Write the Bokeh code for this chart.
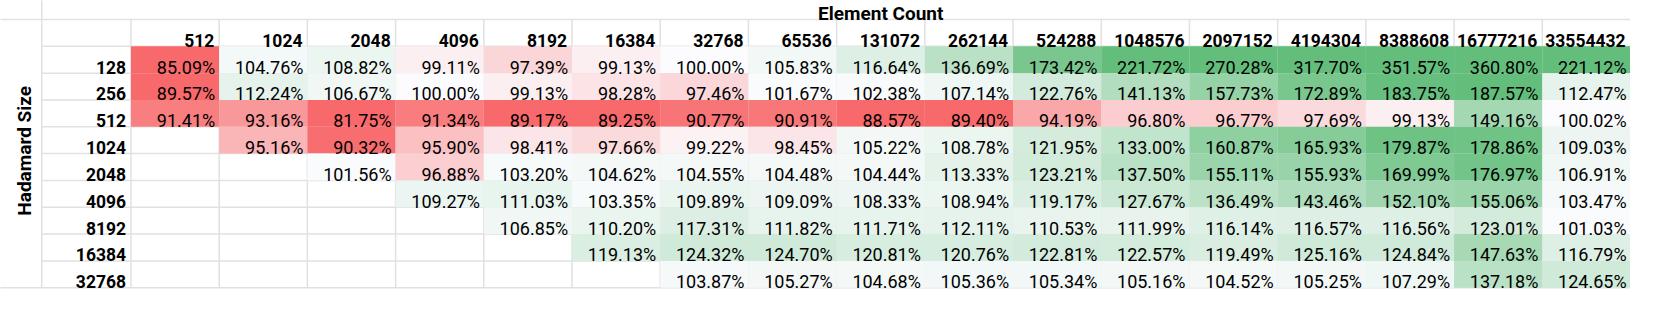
import numpy as np
from bokeh.plotting import figure
from bokeh.models import ColumnDataSource, Range1d
from bokeh.core.properties import value
from bokeh.embed import file_html
from bokeh.resources import INLINE

# ---------------- data ----------------
element_counts = [512, 1024, 2048, 4096, 8192, 16384, 32768, 65536, 131072,
                  262144, 524288, 1048576, 2097152, 4194304, 8388608,
                  16777216, 33554432]
hadamard_sizes = [128, 256, 512, 1024, 2048, 4096, 8192, 16384, 32768]

row_128 = [85.09, 104.76, 108.82, 99.11, 97.39, 99.13, 100.00, 105.83, 116.64,
           136.69, 173.42, 221.72, 270.28, 317.70, 351.57, 360.80, 221.12]
row_256 = [89.57, 112.24, 106.67, 100.00, 99.13, 98.28, 97.46, 101.67, 102.38,
           107.14, 122.76, 141.13, 157.73, 172.89, 183.75, 187.57, 112.47]
row_512 = [91.41, 93.16, 81.75, 91.34, 89.17, 89.25, 90.77, 90.91, 88.57,
           89.40, 94.19, 96.80, 96.77, 97.69, 99.13, 149.16, 100.02]
row_1024 = [95.16, 90.32, 95.90, 98.41, 97.66, 99.22, 98.45, 105.22, 108.78,
            121.95, 133.00, 160.87, 165.93, 179.87, 178.86, 109.03]
row_2048 = [101.56, 96.88, 103.20, 104.62, 104.55, 104.48, 104.44, 113.33,
            123.21, 137.50, 155.11, 155.93, 169.99, 176.97, 106.91]
row_4096 = [109.27, 111.03, 103.35, 109.89, 109.09, 108.33, 108.94, 119.17,
            127.67, 136.49, 143.46, 152.10, 155.06, 103.47]
row_8192 = [106.85, 110.20, 117.31, 111.82, 111.71, 112.11, 110.53, 111.99,
            116.14, 116.57, 116.56, 123.01, 101.03]
row_16384 = [119.13, 124.32, 124.70, 120.81, 120.76, 122.81, 122.57, 119.49,
             125.16, 124.84, 147.63, 116.79]
row_32768 = [103.87, 105.27, 104.68, 105.36, 105.34, 105.16, 104.52, 105.25,
             107.29, 137.18, 124.65]

rows = [row_128, row_256, row_512, row_1024, row_2048, row_4096, row_8192,
        row_16384, row_32768]

x_title = "Element Count"
y_title = "Hadamard Size"

# ---------------- layout (sheet pixels) ----------------
W = 1662
LEFT_COL = 46.0
DATA_X0 = 136.7
NC = len(element_counts)
NR = len(hadamard_sizes)
COL_W = (W - DATA_X0) / NC
HEAD_H = 28.0
DATA_Y0 = 56.0
ROW_H = 28.1
BOTTOM = DATA_Y0 + NR * ROW_H
PAD_DATA = 4.0
PAD_HEAD = 5.0
BASE_OFF = 6.3

FONT = "Roboto"
GRID = "#E1E1E1"

# Excel 3-colour scale: red (low) - white (100%) - green (high)
RED = np.array([248, 105, 107])
WHITE = np.array([252, 252, 255])
GREEN = np.array([99, 190, 123])
all_vals = np.concatenate([np.array(r) for r in rows])
LO = np.percentile(all_vals, 5)
HI = np.percentile(all_vals, 95)
MID = 100.0


def cell_color(v):
    if v <= MID:
        t = min(max((MID - v) / (MID - LO), 0.0), 1.0)
        c = WHITE + t * (RED - WHITE)
    else:
        t = min(max((v - MID) / (HI - MID), 0.0), 1.0)
        c = WHITE + t * (GREEN - WHITE)
    c = np.round(c).astype(int)
    return "#%02x%02x%02x" % tuple(c)


# ---------------- build sources ----------------
cl, cr, ct, cb, cc, tx, ty, tt = [], [], [], [], [], [], [], []
for ri, row in enumerate(rows):
    start = NC - len(row)
    top = DATA_Y0 + ri * ROW_H
    for k, v in enumerate(row):
        ci = start + k
        left = DATA_X0 + ci * COL_W
        cl.append(left)
        cr.append(left + COL_W)
        ct.append(top)
        cb.append(top + ROW_H)
        cc.append(cell_color(v))
        tx.append(left + COL_W - PAD_DATA)
        ty.append(top + ROW_H - BASE_OFF)
        tt.append("%.2f%%" % v)

cells = ColumnDataSource(dict(left=cl, right=cr, top=ct, bottom=cb, color=cc))
labels = ColumnDataSource(dict(x=tx, y=ty, text=tt))

col_heads = ColumnDataSource(dict(
    x=[DATA_X0 + (i + 1) * COL_W - PAD_HEAD for i in range(NC)],
    y=[DATA_Y0 - BASE_OFF] * NC,
    text=[str(c) for c in element_counts]))
row_heads = ColumnDataSource(dict(
    x=[DATA_X0 - PAD_HEAD] * NR,
    y=[DATA_Y0 + (i + 1) * ROW_H - BASE_OFF for i in range(NR)],
    text=[str(h) for h in hadamard_sizes]))

# grid lines
gx0, gy0, gx1, gy1 = [], [], [], []
gx0 += [0, 0]; gx1 += [W, W]; gy0 += [0, HEAD_H]; gy1 += [0, HEAD_H]
for i in range(NR + 1):
    y = DATA_Y0 + i * ROW_H
    gx0.append(LEFT_COL); gx1.append(W); gy0.append(y); gy1.append(y)
gx0.append(0); gx1.append(LEFT_COL); gy0.append(BOTTOM); gy1.append(BOTTOM)
gx0.append(LEFT_COL); gx1.append(LEFT_COL); gy0.append(0); gy1.append(BOTTOM)
for i in range(NC):
    x = DATA_X0 + i * COL_W
    gx0.append(x); gx1.append(x); gy0.append(HEAD_H); gy1.append(BOTTOM)
grid = ColumnDataSource(dict(x0=gx0, y0=gy0, x1=gx1, y1=gy1))

# ---------------- figure ----------------
p = figure(width=1630, height=294, x_range=Range1d(4, W),
           y_range=Range1d(316, 8),
           output_backend="svg", toolbar_location=None, min_border=0)
p.axis.visible = False
p.grid.visible = False
p.outline_line_color = None
p.background_fill_color = "white"
p.border_fill_color = "white"

p.segment(x0="x0", y0="y0", x1="x1", y1="y1", source=grid,
          line_color=GRID, line_width=1.5)
p.quad(left="left", right="right", top="top", bottom="bottom", source=cells,
       fill_color="color", line_color=None)

p.text(x="x", y="y", text="text", source=labels, text_align="right",
       text_baseline="alphabetic", text_font=value(FONT),
       text_font_size="18px", text_color="#000000")
p.text(x="x", y="y", text="text", source=col_heads, text_align="right",
       text_baseline="alphabetic", text_font=value(FONT),
       text_font_size="17.5px", text_font_style="bold", text_color="#000000")
p.text(x="x", y="y", text="text", source=row_heads, text_align="right",
       text_baseline="alphabetic", text_font=value(FONT),
       text_font_size="17.5px", text_font_style="bold", text_color="#000000")

p.text(x=[(DATA_X0 + W) / 2], y=[HEAD_H - BASE_OFF], text=[x_title],
       text_align="center", text_baseline="alphabetic", text_font=value(FONT),
       text_font_size="19px", text_font_style="bold", text_color="#000000")
p.text(x=[LEFT_COL - 17.5], y=[(HEAD_H + BOTTOM) / 2 - 3], text=[y_title],
       angle=np.pi / 2, text_align="center", text_baseline="alphabetic",
       text_font=value(FONT), text_font_size="19px", text_font_style="bold",
       text_color="#000000")

open("out.html", "w").write(file_html(p, INLINE))
